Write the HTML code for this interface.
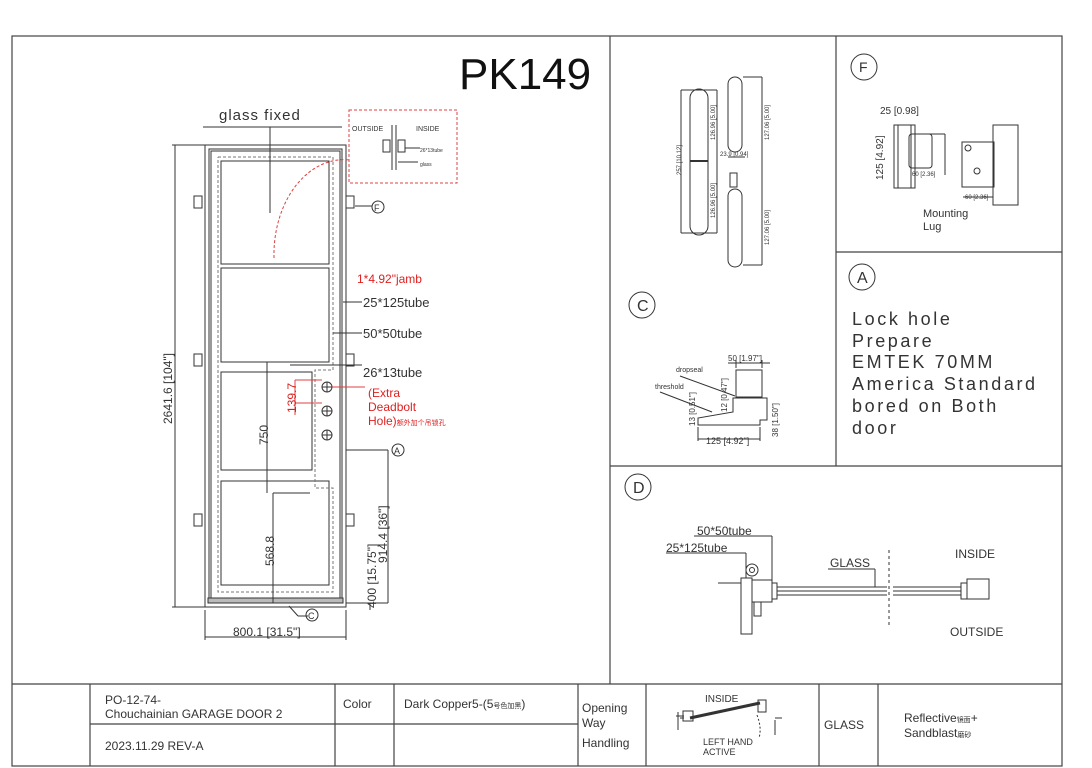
<!DOCTYPE html>
<html><head><meta charset="utf-8"><style>
html,body{margin:0;padding:0;background:#fff;}
svg{display:block;}
text{font-family:"Liberation Sans","Noto Sans CJK SC",sans-serif;fill:#333;}
</style></head><body>
<svg width="1092" height="768" viewBox="0 0 1092 768" xmlns="http://www.w3.org/2000/svg">
<rect width="1092" height="768" fill="#fff"/>
<g stroke="#444" fill="none" stroke-width="1.2">
<rect x="12" y="36" width="1050" height="730"/>
<line x1="610" y1="36" x2="610" y2="684"/>
<line x1="836" y1="36" x2="836" y2="466"/>
<line x1="836" y1="252" x2="1062" y2="252"/>
<line x1="610" y1="466" x2="1062" y2="466"/>
<line x1="12" y1="684" x2="1062" y2="684"/>
<line x1="90" y1="684" x2="90" y2="766"/>
<line x1="335" y1="684" x2="335" y2="766"/>
<line x1="394" y1="684" x2="394" y2="766"/>
<line x1="578" y1="684" x2="578" y2="766"/>
<line x1="646" y1="684" x2="646" y2="766"/>
<line x1="819" y1="684" x2="819" y2="766"/>
<line x1="878" y1="684" x2="878" y2="766"/>
<line x1="90" y1="724" x2="578" y2="724"/>
</g>
<g stroke="#333" fill="none" stroke-width="1">
<rect x="205" y="145" width="141" height="462"/>
<rect x="209" y="149" width="133" height="454"/>
<rect x="211" y="151" width="129" height="450"/>
<rect x="221" y="161" width="108" height="103"/>
<rect x="221" y="268" width="108" height="94"/>
<rect x="221" y="372" width="91" height="98"/>
<rect x="221" y="481" width="108" height="104"/>
<polyline points="218,157 333,157 333,370 315,370 315,488 333,488 333,592 218,592 218,157" stroke-dasharray="3,2" stroke="#777"/>
<rect x="208" y="598" width="135" height="5" fill="#bbb"/>
<line x1="203" y1="127" x2="342" y2="127"/>
<line x1="270" y1="127" x2="270" y2="213"/>
<line x1="172" y1="145" x2="205" y2="145"/><line x1="172" y1="607" x2="205" y2="607"/>
<line x1="175" y1="145" x2="175" y2="607"/>
<line x1="205" y1="610" x2="205" y2="640"/><line x1="346" y1="610" x2="346" y2="640"/>
<line x1="205" y1="637" x2="346" y2="637"/>
<line x1="267" y1="362" x2="267" y2="493"/>
<line x1="267" y1="362" x2="310" y2="362"/>
<line x1="273" y1="493" x2="273" y2="603"/>
<line x1="273" y1="493" x2="310" y2="493"/>
<line x1="346" y1="450" x2="388" y2="450"/><line x1="388" y1="450" x2="388" y2="603"/>
<line x1="346" y1="603" x2="388" y2="603"/>
<line x1="370" y1="603" x2="370" y2="610"/>
<line x1="343" y1="302" x2="362" y2="302"/>
<line x1="333" y1="333" x2="362" y2="333"/>
<line x1="290" y1="365" x2="362" y2="365"/>
<line x1="289" y1="606" x2="298" y2="616"/><line x1="298" y1="616" x2="308" y2="616"/>
<circle cx="312" cy="615" r="6"/>
<line x1="355" y1="206" x2="372" y2="206"/><circle cx="378" cy="207" r="6"/>
<circle cx="327" cy="387" r="5"/><line x1="322" y1="387" x2="332" y2="387"/><line x1="327" y1="382" x2="327" y2="392"/>
<circle cx="327" cy="411" r="5"/><line x1="322" y1="411" x2="332" y2="411"/><line x1="327" y1="406" x2="327" y2="416"/>
<circle cx="327" cy="435" r="5"/><line x1="322" y1="435" x2="332" y2="435"/><line x1="327" y1="430" x2="327" y2="440"/>
<circle cx="398" cy="450" r="6"/>
<rect x="194" y="196" width="8" height="12"/><rect x="194" y="354" width="8" height="12"/><rect x="194" y="514" width="8" height="12"/>
<rect x="346" y="196" width="8" height="12"/><rect x="346" y="354" width="8" height="12"/><rect x="346" y="514" width="8" height="12"/>
</g>
<g stroke="#e04040" fill="none" stroke-width="1">
<path d="M274,258 A70,95 0 0 1 350,160" stroke-dasharray="3,2"/>
<rect x="349" y="110" width="108" height="73" stroke-dasharray="3,2"/>
<line x1="295" y1="380" x2="295" y2="415"/>
<line x1="295" y1="380" x2="322" y2="380"/><line x1="295" y1="403" x2="322" y2="403"/>
<line x1="332" y1="387" x2="365" y2="387"/>
</g>
<g stroke="#333" fill="none" stroke-width="1">
<line x1="392" y1="125" x2="392" y2="170"/><line x1="396" y1="125" x2="396" y2="170"/>
<rect x="383" y="140" width="7" height="12"/><rect x="398" y="140" width="7" height="12"/>
<line x1="405" y1="148" x2="420" y2="148"/><line x1="398" y1="162" x2="418" y2="162"/>
</g>
<g font-size="14">
<text x="219" y="120" font-size="15" style="letter-spacing:1px">glass fixed</text>
<text x="363" y="307" font-size="13">25*125tube</text>
<text x="363" y="338" font-size="13">50*50tube</text>
<text x="363" y="377" font-size="13">26*13tube</text>
<text x="357" y="283" font-size="12" style="fill:#e02020">1*4.92"jamb</text>
<text x="368" y="397" font-size="12" style="fill:#e02020">(Extra</text>
<text x="368" y="411" font-size="12" style="fill:#e02020">Deadbolt</text>
<text x="368" y="425" font-size="12" style="fill:#e02020">Hole)<tspan font-size="7" style="fill:#e02020">额外加个吊锁孔</tspan></text>
<text x="352" y="131" font-size="7">OUTSIDE</text>
<text x="416" y="131" font-size="7">INSIDE</text>
<text x="420" y="152" font-size="5">26*13tube</text>
<text x="420" y="166" font-size="5">glass</text>
<text x="233" y="636" font-size="12">800.1 [31.5"]</text>
<text transform="translate(172,424) rotate(-90)" font-size="12">2641.6 [104"]</text>
<text transform="translate(268,445) rotate(-90)" font-size="12">750</text>
<text transform="translate(274,566) rotate(-90)" font-size="12">568.8</text>
<text transform="translate(387,563) rotate(-90)" font-size="12">914.4 [36"]</text>
<text transform="translate(376,608) rotate(-90)" font-size="12">400 [15.75"]</text>
<text transform="translate(296,413) rotate(-90)" font-size="12" style="fill:#e02020">139.7</text>
<text x="308" y="619" font-size="9">C</text>
<text x="374" y="211" font-size="9">F</text>
<text x="394" y="454" font-size="9">A</text>
<text x="459" y="89" font-size="44" style="fill:#111">PK149</text>
</g>
<g stroke="#333" fill="none" stroke-width="1">
<rect x="690" y="89" width="18" height="146" rx="9"/>
<line x1="690" y1="161" x2="708" y2="161" stroke-width="2"/>
<line x1="681" y1="90" x2="717" y2="90"/><line x1="681" y1="233" x2="717" y2="233"/>
<line x1="681" y1="90" x2="681" y2="233"/><line x1="717" y1="90" x2="717" y2="233"/>
<rect x="728" y="77" width="14" height="75" rx="7"/>
<rect x="730" y="173" width="7" height="14"/>
<rect x="728" y="189" width="14" height="78" rx="7"/>
<line x1="743" y1="77" x2="762" y2="77"/><line x1="762" y1="77" x2="762" y2="265"/><line x1="743" y1="265" x2="762" y2="265"/>
<line x1="728" y1="157" x2="745" y2="157"/>
<rect x="894" y="125" width="21" height="63"/><rect x="898" y="125" width="13" height="63"/>
<rect x="909" y="134" width="23" height="34" rx="3"/>
<line x1="917" y1="134" x2="945" y2="134"/><line x1="945" y1="134" x2="945" y2="175"/>
<rect x="962" y="142" width="32" height="45"/><circle cx="968" cy="148" r="3"/><circle cx="977" cy="171" r="3"/>
<path d="M993,125 L1018,125 L1018,205 L993,205 Z"/>
<line x1="963" y1="197" x2="993" y2="197"/>
<circle cx="864" cy="67" r="13"/><circle cx="862" cy="277" r="13"/><circle cx="642" cy="305" r="13"/><circle cx="638" cy="487" r="13"/>
<rect x="736" y="370" width="26" height="27"/>
<path d="M733,398 L767,398 L767,420 L760,420 L760,425 L698,425 L698,418 L733,412 Z"/>
<line x1="680" y1="376" x2="735" y2="396"/><line x1="660" y1="392" x2="712" y2="412"/>
<line x1="698" y1="427" x2="698" y2="441"/><line x1="760" y1="427" x2="760" y2="441"/><line x1="698" y1="439" x2="760" y2="439"/>
<line x1="736" y1="360" x2="736" y2="368"/><line x1="762" y1="360" x2="762" y2="368"/><line x1="728" y1="363" x2="770" y2="363"/>
<rect x="741" y="578" width="11" height="56"/>
<rect x="752" y="580" width="20" height="22"/>
<line x1="718" y1="583" x2="741" y2="583"/>
<circle cx="752" cy="570" r="6"/><circle cx="752" cy="570" r="2.5"/>
<rect x="754" y="602" width="7" height="14"/>
<rect x="772" y="583" width="5" height="16"/>
<line x1="777" y1="587" x2="887" y2="587"/><line x1="777" y1="591" x2="887" y2="591"/><line x1="777" y1="595" x2="887" y2="595"/>
<line x1="893" y1="587" x2="961" y2="587"/><line x1="893" y1="591" x2="961" y2="591"/><line x1="893" y1="595" x2="961" y2="595"/>
<line x1="889" y1="550" x2="889" y2="625" stroke-dasharray="3,3"/>
<rect x="961" y="583" width="6" height="16"/><rect x="967" y="579" width="22" height="20"/>
<line x1="694" y1="536" x2="772" y2="536"/><line x1="772" y1="536" x2="772" y2="580"/>
<line x1="666" y1="553" x2="746" y2="553"/><line x1="746" y1="553" x2="746" y2="578"/>
<line x1="828" y1="569" x2="875" y2="569"/><line x1="875" y1="569" x2="875" y2="587"/>
<line x1="690" y1="718" x2="760" y2="703" stroke-width="3"/>
<rect x="683" y="711" width="10" height="10"/><rect x="758" y="700" width="8" height="12"/>
<line x1="680" y1="718" x2="684" y2="718"/><line x1="676" y1="716" x2="684" y2="716"/>
<line x1="678" y1="712" x2="678" y2="730"/>
<line x1="775" y1="720" x2="775" y2="735"/><line x1="775" y1="718" x2="782" y2="718"/>
<path d="M757,715 Q762,728 759,738" stroke-dasharray="2,2"/>
</g>
<g font-size="6">
<text transform="translate(681,175) rotate(-90)">257 [10.12]</text>
<text transform="translate(715,140) rotate(-90)">126.96 [5.00]</text>
<text transform="translate(715,218) rotate(-90)">126.96 [5.00]</text>
<text transform="translate(769,140) rotate(-90)">127.06 [5.00]</text>
<text transform="translate(769,245) rotate(-90)">127.06 [5.00]</text>
<text x="720" y="156">23.9 [0.94]</text>
<text x="880" y="114" font-size="10">25 [0.98]</text>
<text transform="translate(883,180) rotate(-90)" font-size="10">125 [4.92]</text>
<text x="912" y="176">60 [2.36]</text><text x="965" y="199">60 [2.36]</text>
<text x="676" y="372" font-size="7">dropseal</text>
<text x="655" y="389" font-size="7">threshold</text>
<text x="728" y="361" font-size="8">50 [1.97"]</text>
<text x="706" y="444" font-size="9">125 [4.92"]</text>
<text transform="translate(695,426) rotate(-90)" font-size="8">13 [0.51"]</text>
<text transform="translate(778,437) rotate(-90)" font-size="8">38 [1.50"]</text>
<text transform="translate(727,412) rotate(-90)" font-size="8">12 [0.47"]</text>
</g>
<g font-size="12">
<text x="923" y="217" font-size="11">Mounting</text><text x="923" y="230" font-size="11">Lug</text>
<text x="859" y="72" font-size="14">F</text><text x="857" y="283" font-size="16">A</text><text x="637" y="311" font-size="16">C</text><text x="633" y="493" font-size="16">D</text>
<g font-size="18" style="letter-spacing:2.6px"><text x="852" y="325">Lock hole</text><text x="852" y="347">Prepare</text><text x="852" y="368">EMTEK 70MM</text><text x="852" y="390">America Standard</text><text x="852" y="412">bored on Both</text><text x="852" y="434">door</text></g>
<text x="697" y="535">50*50tube</text><text x="666" y="552">25*125tube</text>
<text x="830" y="567">GLASS</text><text x="955" y="558">INSIDE</text><text x="950" y="636">OUTSIDE</text>
<text x="105" y="704">PO-12-74-</text>
<text x="105" y="718">Chouchainian GARAGE DOOR 2</text>
<text x="105" y="750">2023.11.29 REV-A</text>
<text x="343" y="708">Color</text>
<text x="404" y="708">Dark Copper5-(5<tspan font-size="7">号色加黑</tspan>)</text>
<text x="582" y="712">Opening</text><text x="582" y="727">Way</text><text x="582" y="747">Handling</text>
<text x="705" y="702" font-size="10">INSIDE</text>
<text x="703" y="745" font-size="9">LEFT HAND</text><text x="703" y="755" font-size="9">ACTIVE</text>
<text x="824" y="729">GLASS</text>
<text x="904" y="722">Reflective<tspan font-size="7">镜面</tspan>+</text>
<text x="904" y="737">Sandblast<tspan font-size="7">磨砂</tspan></text>
</g>
</svg>
</body></html>
